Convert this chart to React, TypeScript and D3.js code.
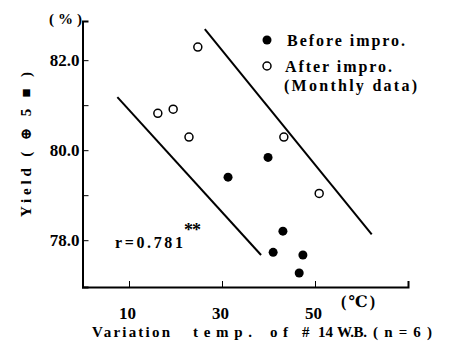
import { useRef, useEffect } from 'react';
import * as d3 from 'd3';

// Before improvement (filled)
const beforeTemp = [31.3, 39.9, 43.1, 41.0, 47.4, 46.6];
const beforeYield = [79.4, 79.84, 78.2, 77.73, 77.67, 77.27];
// After improvement, monthly data (open)
const afterTemp = [24.8, 16.2, 19.5, 22.9, 43.3, 50.9];
const afterYield = [82.29, 80.82, 80.91, 80.29, 80.29, 79.04];
// Boundary lines [x1, y1, x2, y2]
const lowerLine = [7.5, 81.18, 38.4, 77.67];
const upperLine = [26.3, 82.69, 62.2, 78.13];

const xTicks = [10, 30, 50];
const yTicks = [78, 79, 80, 81, 82];
const yLabelTicks = [78, 80, 82];

export default function App() {
    const svgRef = useRef<SVGSVGElement>(null);

    useEffect(() => {
        if (!svgRef.current) return;
        const width = 451;
        const height = 343;
        const svg = d3.select(svgRef.current);
        svg.selectAll('*').remove();
        svg.attr('width', width).attr('height', height);

        const font = '"Liberation Serif", "DejaVu Serif", serif';

        const x = d3.scaleLinear().domain([0, 70]).range([82.5, 408]);
        const y = d3.scaleLinear().domain([76.96, 82.87]).range([287, 21]);

        // Axes
        const xAxis = svg.append('g')
            .attr('transform', `translate(0,${y(76.96)})`)
            .call(d3.axisBottom(x).tickValues(xTicks).tickSize(-6).tickFormat(d3.format('d')));
        xAxis.select('.domain').attr('stroke', '#000').attr('stroke-width', 2);
        xAxis.selectAll('.tick line').attr('stroke', '#000');
        xAxis.selectAll('text')
            .attr('fill', '#000')
            .attr('y', 20)
            .attr('dx', -2)
            .style('font-family', font)
            .style('font-weight', 'bold')
            .style('font-size', '17px');

        const yAxis = svg.append('g')
            .attr('transform', `translate(${x(0)},0)`)
            .call(d3.axisLeft(y).tickValues(yTicks).tickSize(-6)
                .tickFormat(d => (yLabelTicks.includes(+d) ? d3.format('.1f')(+d) : '')));
        yAxis.select('.domain').attr('stroke', '#000').attr('stroke-width', 2);
        yAxis.selectAll('.tick line').attr('stroke', '#000');
        yAxis.selectAll('text')
            .attr('fill', '#000')
            .attr('x', -3)
            .style('font-family', font)
            .style('font-weight', 'bold')
            .style('font-size', '17px');

        // Boundary lines
        [lowerLine, upperLine].forEach(l => {
            svg.append('line')
                .attr('x1', x(l[0])).attr('y1', y(l[1]))
                .attr('x2', x(l[2])).attr('y2', y(l[3]))
                .attr('stroke', '#000')
                .attr('stroke-width', 2);
        });

        // Points
        svg.selectAll('.before')
            .data(beforeTemp)
            .enter()
            .append('circle')
            .attr('cx', d => x(d))
            .attr('cy', (_, i) => y(beforeYield[i]))
            .attr('r', 4.5)
            .attr('fill', '#000');

        svg.selectAll('.after')
            .data(afterTemp)
            .enter()
            .append('circle')
            .attr('cx', d => x(d))
            .attr('cy', (_, i) => y(afterYield[i]))
            .attr('r', 4)
            .attr('fill', '#fff')
            .attr('stroke', '#000')
            .attr('stroke-width', 1.5);

        // Legend
        svg.append('circle').attr('cx', 267).attr('cy', 40).attr('r', 4.5).attr('fill', '#000');
        svg.append('circle').attr('cx', 267).attr('cy', 66).attr('r', 4)
            .attr('fill', '#fff').attr('stroke', '#000').attr('stroke-width', 1.5);

        const txt = (tx: number, ty: number, s: string, size: number, len?: number) => {
            const t = svg.append('text')
                .attr('x', tx).attr('y', ty)
                .attr('fill', '#000')
                .style('font-family', font)
                .style('font-weight', 'bold')
                .style('font-size', `${size}px`)
                .text(s);
            if (len) t.attr('textLength', len).attr('lengthAdjust', 'spacing');
            return t;
        };

        txt(287, 46, 'Before impro.', 16, 118);
        txt(285, 72, 'After impro.', 16, 107);
        txt(284, 91, '(Monthly data)', 16, 133);

        // Correlation
        txt(115, 248, 'r=0.781', 16, 68);
        txt(184, 236, '**', 18, 17);

        // Units
        txt(49, 24, '(%)', 15, 33);
        txt(341, 307, '(\u2103)', 16, 34);

        // X title, word by word
        const words: [number, string, number][] = [
            [92, 'Variation', 78], [193, 'temp.', 59], [270, 'of', 18], [302, '#', 10],
            [318, '14', 15], [337, 'W.B.', 30], [373, '(n=6)', 59],
        ];
        words.forEach(([wx, s, len]) => txt(wx, 337, s, 15, len));

        // Y title
        svg.append('text')
            .attr('transform', `translate(31,${217}) rotate(-90)`)
            .attr('fill', '#000')
            .attr('textLength', 145)
            .attr('lengthAdjust', 'spacing')
            .style('font-family', font)
            .style('font-weight', 'bold')
            .style('font-size', '15px')
            .text('Yield ( \u2295 5 \u25a0 )');
    }, []);

    return (
        <div style={{ position: 'absolute', left: 0, top: 0 }}>
            <svg ref={svgRef}></svg>
        </div>
    );
}
